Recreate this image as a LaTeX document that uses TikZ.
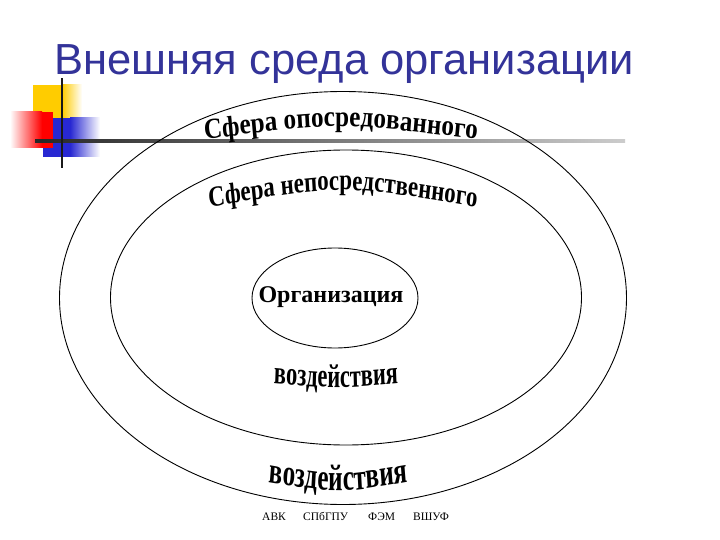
\documentclass[tikz,border=0pt]{standalone}
\usepackage{fontspec}
\setmainfont{Liberation Serif}
\newfontfamily\titlefont{Liberation Sans}
\usetikzlibrary{decorations.text,shapes.geometric}
\definecolor{titleblue}{RGB}{51,51,153}
\definecolor{bulyellow}{RGB}{255,204,0}
\definecolor{bulred}{RGB}{255,0,0}
\definecolor{bulblue}{RGB}{40,40,210}
\def\sA{0.87}
\def\sB{0.79}
\def\sC{0.68}
\begin{document}
\begin{tikzpicture}[x=1pt,y=1pt,
  ring/.style={ellipse, draw=black, line width=0.9pt, inner sep=0pt},
  arctext/.style={decorate, decoration={text along path, text align=center, text={#1}}},
  footer/.style={anchor=base west, inner sep=0pt, font=\fontsize{11.5}{12}\selectfont}]
\useasboundingbox (0,0) rectangle (720,-540);
\fill[white] (0,0) rectangle (720,-540);

% title
\node[anchor=base west, inner sep=0pt, text=titleblue, font=\titlefont\fontsize{43.5}{46}\selectfont] (title) at (54,-75) {Внешняя среда организации};

% bullet decoration
\fill[bulyellow] (33,-85) rectangle (62,-122);
\shade[left color=bulyellow, right color=white] (62,-85) rectangle (82,-122);
\fill[bulblue] (43,-118) rectangle (70,-157);
\shade[left color=bulblue, right color=white] (70,-118) rectangle (100,-157);
\shade[left color=white, right color=bulred] (10,-112) rectangle (42,-148);
\fill[bulred] (42,-112) rectangle (53,-148);
\shade[left color=black!85, right color=black!20] (35,-139.5) rectangle (625,-142.5);
\fill[black!90] (60.8,-78) rectangle (63.2,-168);

% ellipses
\node[ring, minimum width=567, minimum height=413] (outer) at (343,-298) {};
\node[ring, minimum width=471, minimum height=295] (middle) at (346,-297.5) {};
\node[ring, minimum width=166, minimum height=100] (org) at (335,-298) {};
\node[anchor=base, inner sep=0pt, font=\bfseries\fontsize{24}{26}\selectfont] (orgtext) at (331,-302) {Организация};

% arched texts
\begin{scope}[transform canvas={xscale=\sA}]
\path[arctext={|\bfseries\fontsize{29}{30}\selectfont|Сфера опосредованного}]
  ({200/\sA},-140) .. controls ({340/\sA},-122) .. ({482/\sA},-140);
\end{scope}
\begin{scope}[transform canvas={xscale=\sB}]
\path[arctext={|\bfseries\fontsize{29}{30}\selectfont|Сфера непосредственного}]
  ({206/\sB},-208) .. controls ({342/\sB},-184) .. ({480/\sB},-208);
\end{scope}
\begin{scope}[transform canvas={xscale=\sC}]
\path[arctext={|\bfseries\fontsize{33}{34}\selectfont|воздействия}]
  ({268/\sC},-383) .. controls ({336/\sC},-389) .. ({404/\sC},-383);
\path[arctext={|\bfseries\fontsize{37}{38}\selectfont|воздействия}]
  ({263/\sC},-481) .. controls ({338/\sC},-494) .. ({414/\sC},-481);
\end{scope}

% footer
\node[footer] (f1) at (262,-520) {АВК};
\node[footer] (f2) at (303,-520) {СПбГПУ};
\node[footer] (f3) at (368,-520) {ФЭМ};
\node[footer] (f4) at (413,-520) {ВШУФ};
\end{tikzpicture}
\end{document}
